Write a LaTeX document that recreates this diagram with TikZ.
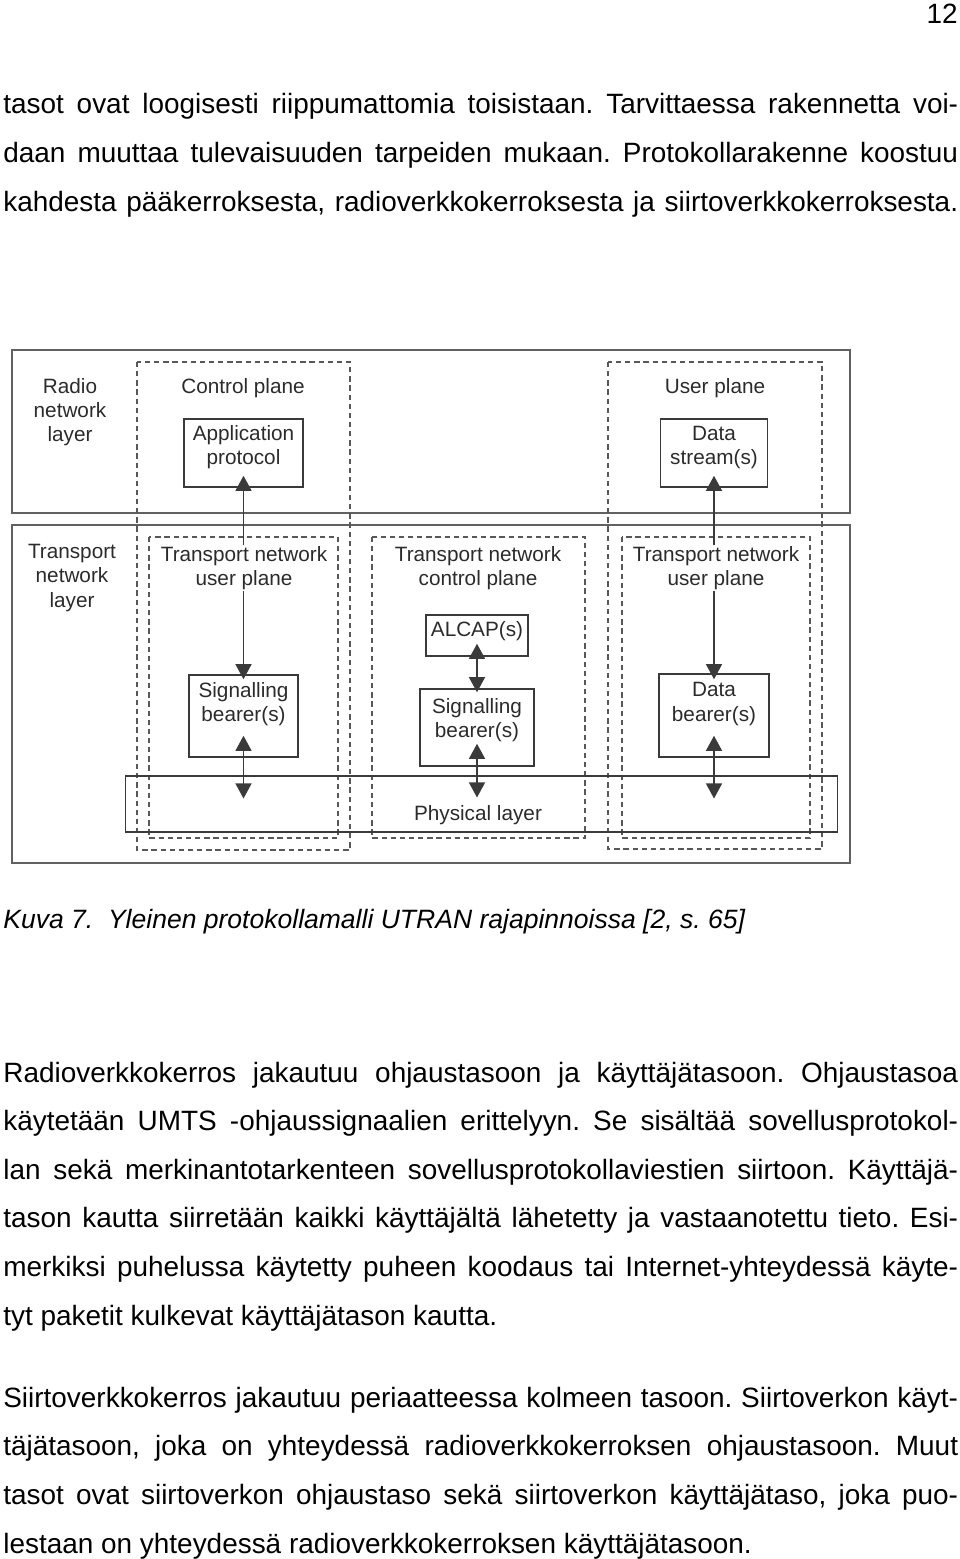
\documentclass[tikz,border=0pt]{standalone}
\usepackage{fontspec}
\setmainfont{Liberation Sans}
\usetikzlibrary{arrows.meta, calc}
\definecolor{scan}{HTML}{3A3A3A}
\definecolor{scantext}{HTML}{2B2B2B}
\newcommand{\fullline}[1]{\makebox[19.1cm][s]{#1}}
\frenchspacing

\begin{document}
\begin{tikzpicture}[x=0.02cm, y=-0.02cm, >={Triangle[width=0.32cm,length=0.3cm]},
        body/.style={anchor=base west, inner sep=0pt, font=\fontsize{15.9}{27.7}\selectfont},
        capt/.style={anchor=base west, inner sep=0pt, font=\fontsize{15.1}{27.7}\selectfont\itshape},
        lbl/.style={align=center, text=scantext, inner sep=1pt, font=\fontsize{11.8}{13.7}\selectfont},
        box/.style={draw=scan, line width=0.9pt, inner sep=0pt},
        layer/.style={draw=scan!80, line width=0.9pt},
        plane/.style={draw=scan!85, line width=0.6pt, dash pattern=on 3pt off 2.2pt},
        lnk/.style={<->, draw=scan, line width=0.7pt}]
    \useasboundingbox (0,0) rectangle (960,1559);

    % page number and text above the figure
    \node[body, anchor=base east] (pno) at (958,23) {12};
    \node[body] (p1a) at (3,113) {\fullline{tasot ovat loogisesti riippumattomia toisistaan. Tarvittaessa rakennetta voi-}};
    \node[body] (p1b) at (3,162) {\fullline{daan muuttaa tulevaisuuden tarpeiden mukaan. Protokollarakenne koostuu}};
    \node[body] (p1c) at (3,211) {\fullline{kahdesta pääkerroksesta, radioverkkokerroksesta ja siirtoverkkokerroksesta.}};

    % layers and planes
    \draw[layer] (12,350) rectangle (850,513);
    \draw[layer] (12,525) rectangle (850,863);
    \draw[plane] (137,362) rectangle (350,850);
    \draw[plane] (608,362) rectangle (822,849);
    \draw[plane] (149,537) rectangle (338,838);
    \draw[plane] (372,537) rectangle (585,838);
    \draw[plane] (622,537) rectangle (810,838);
    \node[draw=scan, line width=0.6pt, minimum width=14.26cm, minimum height=1.12cm, inner sep=0pt] (phys) at (481.5,804) {};

    % protocol boxes
    \node[box, minimum width=2.38cm, minimum height=1.36cm, label={[lbl, yshift=0.11cm]center:{Application\\protocol}}] (app) at (243.5,453) {};
    \node[box, minimum width=2.14cm, minimum height=1.36cm, label={[lbl, yshift=0.11cm]center:{Data\\stream(s)}}] (dstream) at (714,453) {};
    \node[box, minimum width=2.18cm, minimum height=1.64cm, label={[lbl, yshift=0.24cm]center:{Signalling\\bearer(s)}}] (sigL) at (243.5,716) {};
    \node[box, minimum width=2.04cm, minimum height=0.82cm, label={[lbl, yshift=0.08cm]center:{ALCAP(s)}}] (alcap) at (477,635.5) {};
    \node[box, minimum width=2.28cm, minimum height=1.54cm, label={[lbl, yshift=0.15cm]center:{Signalling\\bearer(s)}}] (sigM) at (477,727.5) {};
    \node[box, minimum width=2.2cm, minimum height=1.66cm, label={[lbl, yshift=0.23cm]center:{Data\\bearer(s)}}] (dbear) at (714,715.5) {};

    % links
    \draw[lnk] ($(app.south)+(0,-12)$) -- ($(sigL.north)+(0,5)$);
    \draw[lnk] ($(sigL.south)+(0,-22)$) -- ($(sigL.south |- phys.north)+(0,23)$);
    \draw[lnk] ($(alcap.south)+(0,-13)$) -- ($(sigM.north)+(0,4)$);
    \draw[lnk] ($(sigM.south)+(0,-23)$) -- ($(sigM.south |- phys.north)+(0,22)$);
    \draw[lnk] ($(dstream.south)+(0,-12)$) -- ($(dbear.north)+(0,6)$);
    \draw[lnk] ($(dbear.south)+(0,-22)$) -- ($(dbear.south |- phys.north)+(0,23)$);

    % layer and plane labels
    \node[lbl] (rnl) at (70,412) {Radio\\network\\layer};
    \node[lbl] (cpl) at (243,388) {Control plane};
    \node[lbl] (upl) at (715,388) {User plane};
    \node[lbl] (tnl) at (72,578) {Transport\\network\\layer};
    \node[lbl, fill=white] (tnuL) at (244,568) {Transport network\\user plane};
    \node[lbl] (tnc) at (478,568) {Transport network\\control plane};
    \node[lbl, fill=white] (tnuR) at (716,568) {Transport network\\user plane};
    \node[lbl] (physl) at (478,815) {Physical layer};

    % caption and text below the figure
    \node[capt] (cap) at (3,928) {Kuva 7.\ \ Yleinen protokollamalli UTRAN rajapinnoissa [2, s. 65]};
    \node[body] (p2a) at (3,1082) {\fullline{Radioverkkokerros jakautuu ohjaustasoon ja käyttäjätasoon. Ohjaustasoa}};
    \node[body] (p2b) at (3,1130.6) {\fullline{käytetään UMTS -ohjaussignaalien erittelyyn. Se sisältää sovellusprotokol-}};
    \node[body] (p2c) at (3,1179.2) {\fullline{lan sekä merkinantotarkenteen sovellusprotokollaviestien siirtoon. Käyttäjä-}};
    \node[body] (p2d) at (3,1227.8) {\fullline{tason kautta siirretään kaikki käyttäjältä lähetetty ja vastaanotettu tieto. Esi-}};
    \node[body] (p2e) at (3,1276.4) {\fullline{merkiksi puhelussa käytetty puheen koodaus tai Internet-yhteydessä käyte-}};
    \node[body] (p2f) at (3,1325) {tyt paketit kulkevat käyttäjätason kautta.};
    \node[body] (p3a) at (3,1407.2) {\fullline{Siirtoverkkokerros jakautuu periaatteessa kolmeen tasoon. Siirtoverkon käyt-}};
    \node[body] (p3b) at (3,1455.8) {\fullline{täjätasoon, joka on yhteydessä radioverkkokerroksen ohjaustasoon. Muut}};
    \node[body] (p3c) at (3,1504.4) {\fullline{tasot ovat siirtoverkon ohjaustaso sekä siirtoverkon käyttäjätaso, joka puo-}};
    \node[body] (p3d) at (3,1553) {lestaan on yhteydessä radioverkkokerroksen käyttäjätasoon.};
\end{tikzpicture}
\end{document}
